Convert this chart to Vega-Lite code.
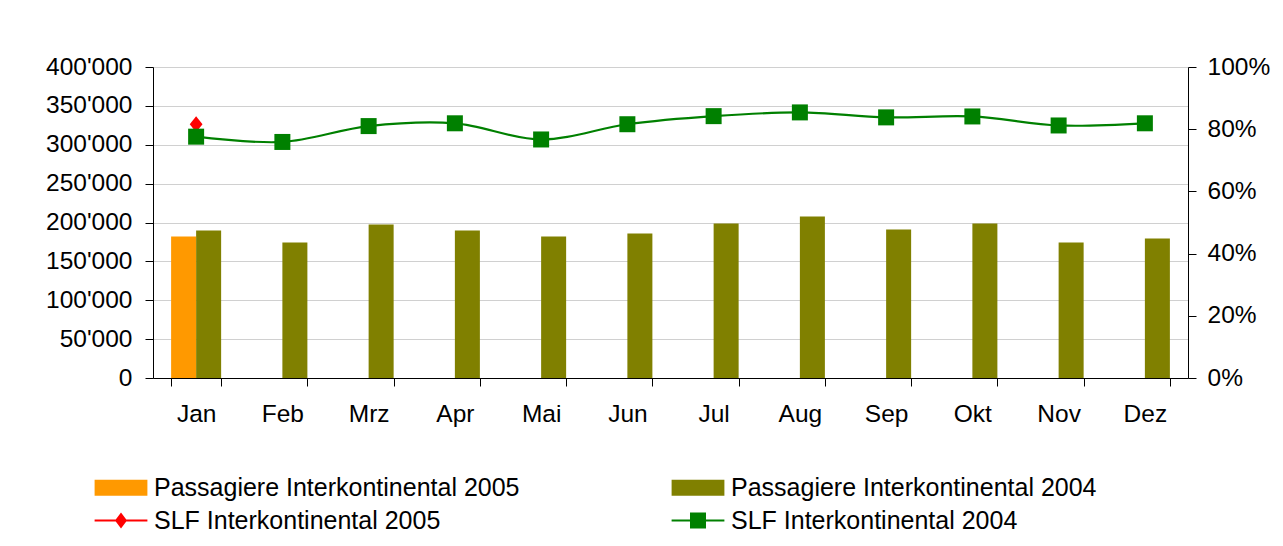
{
  "$schema": "https://vega.github.io/schema/vega-lite/v6.json",
  "width": 1035,
  "height": 311,
  "autosize": {"type": "none"},
  "padding": {"left": 153, "top": 67, "right": 95, "bottom": 168},
  "background": "white",
  "config": {
    "view": {"stroke": null},
    "locale": {"number": {"decimal": ".", "thousands": "'", "grouping": [3], "currency": ["", ""]}},
    "axis": {
      "labelFont": "Liberation Sans",
      "labelFontSize": 24.5,
      "labelColor": "#000000",
      "domainColor": "#000000",
      "tickColor": "#000000",
      "title": null
    },
    "legend": {
      "labelFont": "Liberation Sans",
      "labelFontSize": 25,
      "labelColor": "#000000",
      "labelLimit": 600
    }
  },
  "datasets": {
    "pax": [
      {"month": "Jan", "series": "Passagiere Interkontinental 2005", "pax": 182000},
      {"month": "Jan", "series": "Passagiere Interkontinental 2004", "pax": 189700},
      {"month": "Feb", "series": "Passagiere Interkontinental 2004", "pax": 174200},
      {"month": "Mrz", "series": "Passagiere Interkontinental 2004", "pax": 197400},
      {"month": "Apr", "series": "Passagiere Interkontinental 2004", "pax": 189700},
      {"month": "Mai", "series": "Passagiere Interkontinental 2004", "pax": 182000},
      {"month": "Jun", "series": "Passagiere Interkontinental 2004", "pax": 185800},
      {"month": "Jul", "series": "Passagiere Interkontinental 2004", "pax": 198700},
      {"month": "Aug", "series": "Passagiere Interkontinental 2004", "pax": 207700},
      {"month": "Sep", "series": "Passagiere Interkontinental 2004", "pax": 191000},
      {"month": "Okt", "series": "Passagiere Interkontinental 2004", "pax": 198700},
      {"month": "Nov", "series": "Passagiere Interkontinental 2004", "pax": 174200},
      {"month": "Dez", "series": "Passagiere Interkontinental 2004", "pax": 179400}
    ],
    "slf": [
      {"month": "Jan", "series": "SLF Interkontinental 2005", "slf": 0.816},
      {"month": "Jan", "series": "SLF Interkontinental 2004", "slf": 0.776},
      {"month": "Feb", "series": "SLF Interkontinental 2004", "slf": 0.759},
      {"month": "Mrz", "series": "SLF Interkontinental 2004", "slf": 0.810},
      {"month": "Apr", "series": "SLF Interkontinental 2004", "slf": 0.819},
      {"month": "Mai", "series": "SLF Interkontinental 2004", "slf": 0.767},
      {"month": "Jun", "series": "SLF Interkontinental 2004", "slf": 0.816},
      {"month": "Jul", "series": "SLF Interkontinental 2004", "slf": 0.842},
      {"month": "Aug", "series": "SLF Interkontinental 2004", "slf": 0.854},
      {"month": "Sep", "series": "SLF Interkontinental 2004", "slf": 0.838},
      {"month": "Okt", "series": "SLF Interkontinental 2004", "slf": 0.841},
      {"month": "Nov", "series": "SLF Interkontinental 2004", "slf": 0.812},
      {"month": "Dez", "series": "SLF Interkontinental 2004", "slf": 0.819}
    ]
  },
  "encoding": {
    "x": {
      "field": "month",
      "type": "nominal",
      "sort": ["Jan", "Feb", "Mrz", "Apr", "Mai", "Jun", "Jul", "Aug", "Sep", "Okt", "Nov", "Dez"],
      "scale": {"paddingInner": 0.42, "paddingOuter": 0.21},
      "axis": {"labelAngle": 0, "tickBand": "extent", "tickSize": 8, "labelPadding": 16, "grid": false}
    }
  },
  "layer": [
    {
      "data": {"name": "pax"},
      "mark": {"type": "bar"},
      "encoding": {
        "xOffset": {
          "field": "series",
          "type": "nominal",
          "scale": {"domain": ["Passagiere Interkontinental 2005", "Passagiere Interkontinental 2004"], "paddingInner": 0, "paddingOuter": 0}
        },
        "y": {
          "field": "pax",
          "type": "quantitative",
          "scale": {"domain": [0, 400000], "nice": false},
          "axis": {
            "orient": "left",
            "values": [0, 50000, 100000, 150000, 200000, 250000, 300000, 350000, 400000],
            "format": ",d",
            "tickSize": 8,
            "labelPadding": 13,
            "grid": true,
            "gridColor": "#d0d0d0",
            "gridWidth": 1
          }
        },
        "color": {
          "field": "series",
          "type": "nominal",
          "scale": {
            "domain": ["Passagiere Interkontinental 2005", "Passagiere Interkontinental 2004", "SLF Interkontinental 2005", "SLF Interkontinental 2004"],
            "range": ["#FF9900", "#808000", "#FF0000", "#008000"]
          },
          "legend": {
            "title": null,
            "orient": "none",
            "legendX": -44.5,
            "legendY": 408,
            "direction": "horizontal",
            "columns": 2,
            "columnPadding": 151,
            "rowPadding": 7,
            "symbolSize": 256,
            "labelOffset": 20.5,
            "padding": 0,
            "gridAlign": "all",
            "encode": {
              "symbols": {
                "update": {
                  "shape": {"signal": "datum.value === 'SLF Interkontinental 2005' ? 'M-3.3,-0.125H3.3V0.125H-3.3Z M0,-1L0.75,0L0,1L-0.75,0Z' : datum.value === 'SLF Interkontinental 2004' ? 'M-3.3,-0.125H3.3V0.125H-3.3Z M-1,-1H1V1H-1Z' : 'M-3.3,-1H3.3V1H-3.3Z'"},
                  "fill": {"signal": "scale('color', datum.value)"},
                  "fillOpacity": {"value": 1},
                  "opacity": {"value": 1},
                  "strokeWidth": {"value": 0},
                  "size": {"value": 256}
                }
              }
            }
          }
        }
      }
    },
    {
      "data": {"name": "slf"},
      "transform": [{"filter": "datum.series === 'SLF Interkontinental 2004'"}],
      "mark": {"type": "line", "interpolate": "cardinal", "strokeWidth": 2.2},
      "encoding": {
        "y": {
          "field": "slf",
          "type": "quantitative",
          "scale": {"domain": [0, 1], "nice": false},
          "axis": {
            "orient": "right",
            "values": [0, 0.2, 0.4, 0.6, 0.8, 1],
            "format": ".0%",
            "tickSize": 8,
            "labelPadding": 11,
            "grid": false
          }
        },
        "color": {"field": "series", "type": "nominal"}
      }
    },
    {
      "data": {"name": "slf"},
      "mark": {"type": "point", "filled": true, "opacity": 1, "size": 256, "strokeWidth": 0},
      "encoding": {
        "y": {"field": "slf", "type": "quantitative", "scale": {"domain": [0, 1], "nice": false}, "axis": null},
        "color": {"field": "series", "type": "nominal"},
        "shape": {
          "field": "series",
          "type": "nominal",
          "scale": {
            "domain": ["SLF Interkontinental 2005", "SLF Interkontinental 2004"],
            "range": ["M0,-1L0.8,0L0,1L-0.8,0Z", "square"]
          },
          "legend": null
        }
      }
    }
  ],
  "resolve": {"scale": {"y": "independent"}}
}
